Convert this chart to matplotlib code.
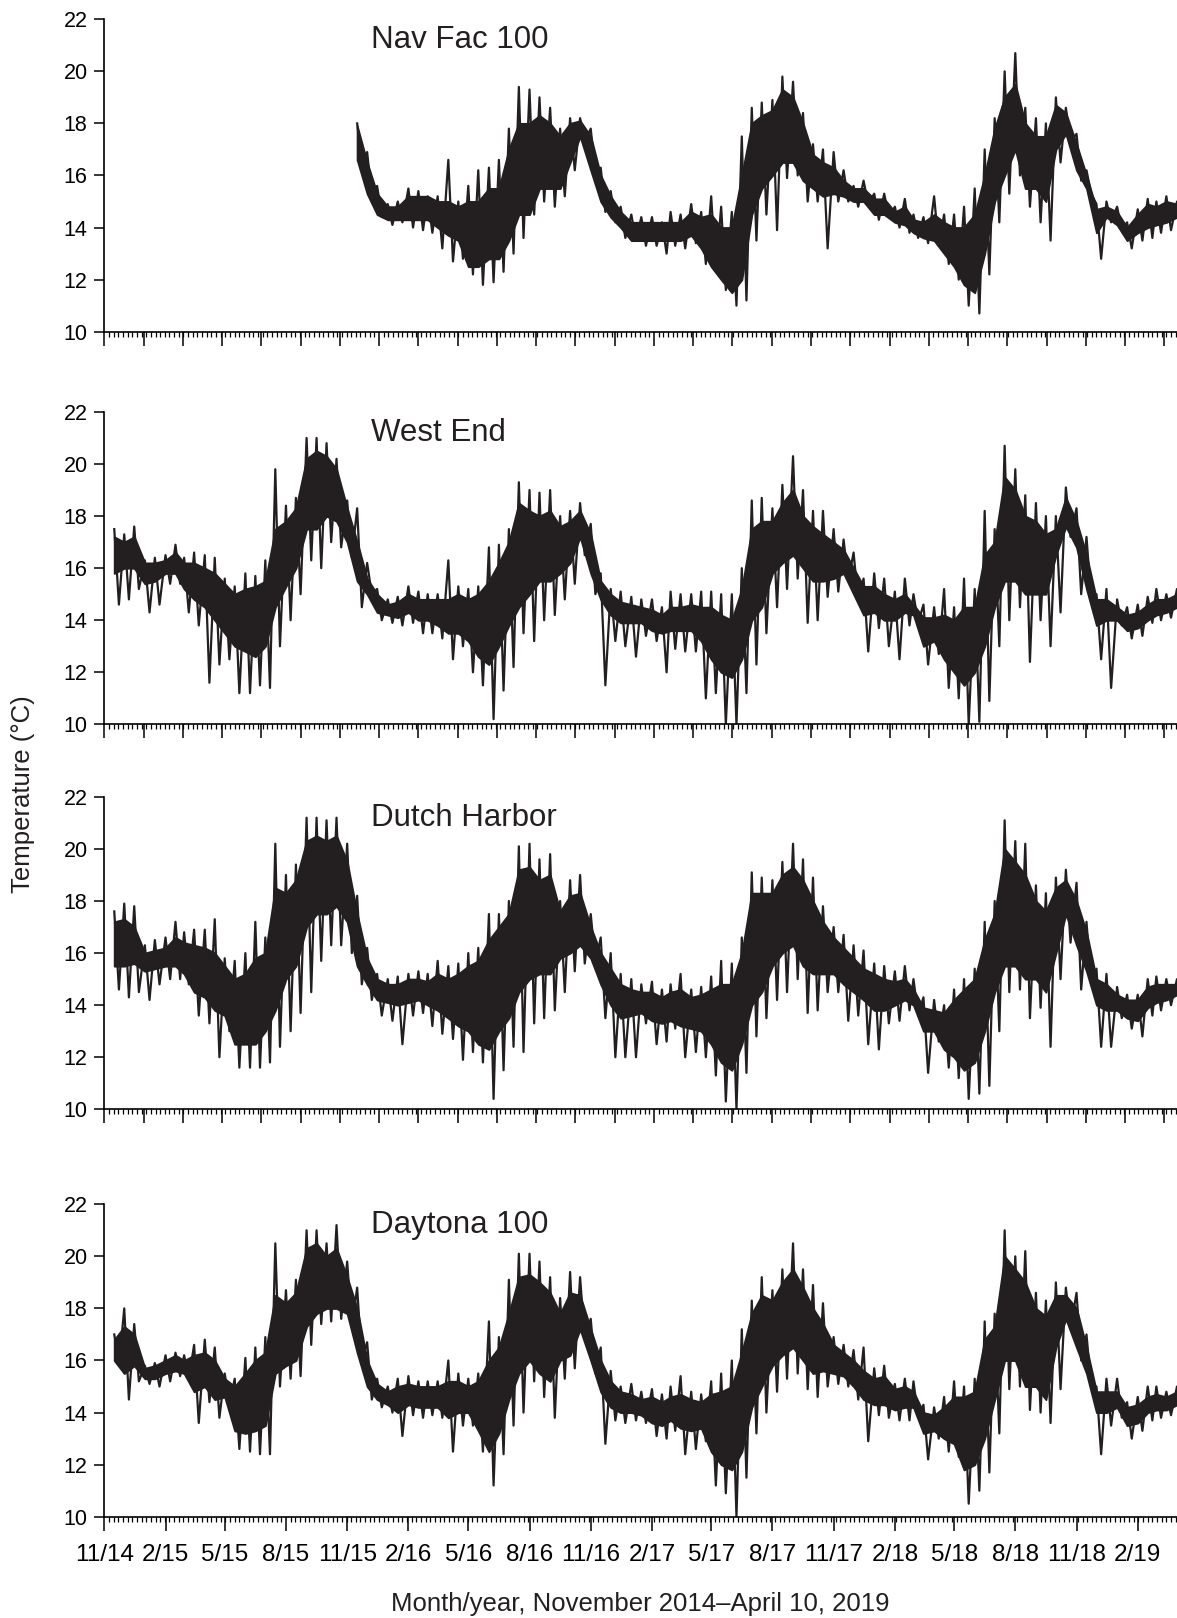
import matplotlib
matplotlib.use('Agg')
import matplotlib.pyplot as plt
import matplotlib.dates as mdates
from matplotlib.ticker import FixedLocator
import numpy as np
import pandas as pd

plt.rcParams['font.family'] = ['Liberation Sans', 'DejaVu Sans']

nan = float('nan')

# half-month grid (1st and 16th), Nov 2014 - Apr 2019
months = pd.date_range('2014-11-01', '2019-03-01', freq='MS')
dates = []
for m in months:
    dates.append(m)
    dates.append(m + pd.Timedelta(days=15))
dates.append(pd.Timestamp('2019-04-01'))

# extremes of the trace (spikes) per half month, deg C
navfac_hi = [nan] * 25 + [
    18.0, 16.9, 15.6, 14.9, 15.0, 15.5, 15.4, 15.2, 15.2, 16.6, 15.0, 15.6, 16.2, 16.3, 16.6, 17.8,
    19.4, 19.3, 19.0, 18.6, 17.8, 18.2, 18.2, 17.8, 16.3, 15.4, 14.8, 14.5, 14.4, 14.4, 14.2, 14.6,
    14.5, 14.9, 14.6, 15.2, 14.8, 14.6, 17.5, 18.6, 18.8, 18.9, 19.8, 19.6, 18.4, 17.2, 17.0, 16.9,
    16.2, 15.6, 15.8, 15.3, 15.3, 14.8, 15.1, 14.5, 14.4, 15.2, 14.5, 14.5, 14.8, 15.5, 17.0, 18.2,
    20.0, 20.7, 18.6, 18.2, 18.0, 19.0, 18.6, 17.6, 16.2, 14.9, 15.0, 14.8, 14.2, 14.7, 15.1, 15.0,
    15.2, 15.0]
navfac_lo = [nan] * 25 + [
    16.5, 15.2, 14.4, 14.1, 14.2, 14.0, 13.9, 13.8, 13.2, 12.7, 12.8, 12.2, 11.8, 11.9, 12.3, 13.0,
    13.6, 14.5, 15.0, 14.8, 15.2, 16.2, 17.3, 16.0, 14.6, 14.2, 13.6, 13.5, 13.3, 13.3, 13.0, 13.3,
    13.2, 13.4, 12.6, 12.3, 11.6, 11.0, 11.2, 13.5, 14.5, 13.9, 15.9, 16.0, 15.0, 15.0, 13.2, 15.0,
    15.0, 14.8, 14.9, 14.3, 14.4, 14.0, 13.8, 13.6, 13.4, 13.3, 12.6, 12.0, 11.0, 10.7, 12.2, 14.2,
    15.3, 16.0, 14.8, 14.2, 13.5, 16.5, 17.3, 15.8, 15.3, 12.8, 14.2, 13.9, 13.2, 13.5, 13.6, 13.8,
    13.9, 14.2]
# dense core of the trace per half month
navfac_core_hi = [nan] * 25 + [
    17.9, 16.5, 15.3, 14.8, 14.8, 15.2, 15.2, 15.2, 15.0, 15.0, 14.8, 15.0, 15.0, 15.5, 15.5, 17.0,
    18.0, 18.0, 18.3, 18.0, 17.5, 18.0, 18.1, 17.5, 16.0, 15.2, 14.6, 14.2, 14.2, 14.2, 14.2, 14.2,
    14.2, 14.6, 14.4, 14.5, 14.0, 14.0, 16.0, 18.0, 18.3, 18.5, 19.3, 19.0, 18.0, 16.8, 16.5, 16.3,
    15.8, 15.5, 15.5, 15.1, 15.1, 14.6, 14.8, 14.3, 14.2, 14.5, 14.2, 14.0, 14.0, 14.5, 16.0, 17.8,
    19.0, 19.5, 18.0, 17.5, 17.5, 18.7, 18.4, 17.2, 16.0, 14.7, 14.8, 14.6, 14.0, 14.5, 14.9, 14.8,
    15.0, 14.9]
navfac_core_lo = [nan] * 25 + [
    16.6, 15.3, 14.5, 14.3, 14.3, 14.3, 14.3, 14.3, 14.0, 13.7, 13.5, 12.5, 12.5, 12.8, 12.8, 13.5,
    14.5, 14.5, 15.5, 15.5, 15.5, 16.5, 17.5, 16.2, 15.0, 14.4, 14.0, 13.5, 13.5, 13.5, 13.5, 13.5,
    13.5, 13.7, 13.2, 12.5, 12.0, 11.5, 12.0, 14.5, 15.5, 16.0, 16.5, 16.5, 15.8, 15.5, 15.2, 15.3,
    15.2, 15.0, 15.0, 14.5, 14.5, 14.2, 14.1, 13.8, 13.6, 13.5, 13.0, 12.5, 11.8, 11.5, 13.0, 15.0,
    16.0, 17.0, 15.5, 15.5, 15.0, 17.0, 17.6, 16.2, 15.5, 13.8, 14.4, 14.1, 13.5, 13.8, 14.0, 14.1,
    14.2, 14.4]

westend_hi = [nan,
    17.5, 17.3, 17.6, 16.3, 16.4, 16.5, 16.9, 16.4, 16.6, 16.5, 16.4, 15.6, 15.3, 15.8, 15.7, 16.3,
    19.8, 18.4, 18.7, 21.0, 21.0, 20.8, 20.2, 18.6, 18.3, 16.2, 15.2, 14.8, 14.9, 15.3, 15.1, 15.0,
    15.0, 16.3, 15.3, 15.2, 15.3, 16.8, 16.9, 17.5, 19.3, 19.0, 18.9, 19.0, 18.0, 18.2, 18.5, 17.7,
    15.8, 15.2, 15.1, 14.9, 14.8, 14.8, 14.5, 15.1, 15.0, 15.0, 15.1, 15.1, 15.0, 15.0, 16.0, 18.6,
    18.7, 18.3, 19.2, 20.3, 19.0, 18.2, 18.2, 17.5, 17.1, 16.6, 15.6, 15.8, 15.6, 15.1, 15.6, 15.0,
    14.6, 14.5, 15.2, 14.5, 15.6, 15.2, 18.2, 17.5, 20.7, 19.8, 18.8, 18.5, 18.0, 18.0, 19.1, 18.3,
    17.2, 15.0, 15.2, 14.8, 14.5, 14.6, 14.9, 15.2, 15.0, 15.2]
westend_lo = [nan,
    14.6, 14.8, 15.2, 14.3, 14.6, 15.4, 15.4, 14.3, 13.8, 11.6, 12.3, 12.5, 11.2, 11.2, 11.5, 11.4,
    13.0, 14.0, 15.0, 16.3, 16.0, 17.0, 16.8, 16.4, 14.5, 15.0, 14.0, 13.9, 13.8, 13.9, 13.5, 13.5,
    13.3, 12.5, 13.0, 12.0, 11.5, 10.2, 11.3, 12.2, 13.5, 13.2, 14.0, 14.2, 14.8, 15.4, 16.5, 15.0,
    11.5, 13.2, 13.0, 12.6, 13.4, 13.2, 12.0, 12.9, 12.8, 12.8, 11.0, 11.2, 10.0, 10.0, 11.2, 12.3,
    13.5, 14.5, 15.2, 15.6, 13.9, 14.0, 14.9, 15.1, 15.5, 14.7, 12.8, 13.7, 13.0, 12.5, 13.8, 13.9,
    12.3, 12.7, 11.4, 11.0, 10.0, 10.1, 10.9, 13.0, 14.0, 14.5, 12.4, 14.0, 13.0, 14.3, 17.2, 15.0,
    14.8, 12.5, 11.4, 13.8, 13.3, 13.4, 13.9, 14.0, 14.1, 14.3]
westend_core_hi = [nan,
    17.2, 17.0, 17.2, 16.2, 16.2, 16.3, 16.6, 16.2, 16.2, 16.0, 15.8, 15.4, 15.0, 15.2, 15.3, 15.5,
    17.5, 17.8, 18.3, 20.2, 20.5, 20.3, 19.8, 18.3, 17.0, 15.6, 15.0, 14.6, 14.7, 15.0, 14.8, 14.8,
    14.8, 14.8, 15.0, 14.8, 15.0, 15.5, 16.2, 17.0, 18.5, 18.2, 18.0, 18.2, 17.6, 17.8, 18.2, 17.3,
    15.5, 15.0, 14.7, 14.6, 14.5, 14.4, 14.2, 14.5, 14.5, 14.6, 14.5, 14.5, 14.2, 14.0, 15.2, 17.5,
    17.8, 17.8, 18.5, 19.0, 18.0, 17.6, 17.3, 17.0, 16.7, 16.0, 15.3, 15.3, 15.0, 14.8, 15.0, 14.6,
    14.1, 14.1, 14.2, 14.0, 14.5, 14.5, 16.5, 17.0, 19.5, 19.0, 18.0, 17.8, 17.3, 17.5, 18.7, 17.8,
    16.5, 14.8, 14.8, 14.5, 14.2, 14.3, 14.6, 14.8, 14.8, 15.0]
westend_core_lo = [nan,
    15.8, 16.0, 16.0, 15.4, 15.5, 15.8, 15.8, 15.2, 14.8, 14.5, 14.0, 13.5, 13.0, 12.8, 12.6, 13.0,
    14.5, 15.3, 16.0, 17.5, 17.5, 18.0, 17.8, 17.0, 15.5, 15.0, 14.3, 14.2, 14.1, 14.3, 14.0, 14.0,
    13.8, 13.5, 13.5, 13.2, 12.6, 12.3, 13.0, 13.8, 14.5, 15.0, 15.5, 15.5, 15.8, 16.2, 17.2, 15.8,
    14.8, 14.2, 13.9, 13.9, 13.9, 13.6, 13.5, 13.6, 13.6, 13.6, 13.2, 12.5, 12.0, 11.8, 12.5, 14.0,
    14.5, 15.8, 16.2, 16.5, 16.0, 15.5, 15.5, 15.6, 15.8, 15.0, 14.2, 14.3, 14.0, 14.0, 14.3, 14.2,
    13.0, 13.2, 12.5, 12.0, 11.5, 12.0, 13.0, 14.5, 15.5, 15.5, 15.0, 15.0, 15.0, 16.5, 17.6, 16.8,
    15.2, 13.8, 14.0, 14.0, 13.6, 13.7, 14.0, 14.2, 14.3, 14.5]

dutch_hi = [nan,
    17.6, 17.9, 17.8, 16.3, 16.5, 16.6, 17.2, 16.8, 16.9, 16.9, 17.3, 15.8, 15.7, 16.0, 17.2, 16.6,
    20.2, 19.0, 19.4, 21.2, 21.2, 21.1, 21.2, 20.2, 18.2, 16.2, 15.2, 15.0, 15.1, 15.2, 15.3, 15.2,
    15.7, 15.5, 15.6, 16.0, 16.2, 17.5, 17.5, 18.0, 20.1, 20.2, 19.6, 19.8, 18.0, 18.8, 19.0, 17.5,
    16.6, 16.0, 15.2, 15.0, 14.8, 14.9, 14.6, 14.8, 15.2, 14.6, 14.7, 15.1, 15.7, 15.6, 16.6, 19.1,
    18.9, 18.8, 19.5, 20.2, 19.6, 18.9, 17.8, 17.0, 16.7, 16.3, 16.1, 15.6, 15.5, 15.3, 15.5, 15.0,
    14.3, 14.2, 14.0, 14.6, 15.0, 15.4, 17.2, 18.0, 21.1, 20.3, 20.2, 18.6, 18.3, 18.9, 19.2, 18.7,
    17.2, 15.4, 15.2, 14.7, 14.4, 14.4, 15.0, 15.1, 15.0, 15.0]
dutch_lo = [nan,
    14.6, 14.3, 14.5, 14.2, 14.8, 15.0, 15.0, 14.8, 13.6, 13.3, 12.0, 13.0, 11.6, 11.6, 11.6, 11.8,
    12.4, 13.0, 13.7, 14.5, 15.7, 16.3, 16.3, 16.0, 14.8, 14.2, 13.6, 13.4, 12.5, 13.6, 13.7, 13.2,
    12.9, 12.7, 11.9, 12.2, 11.8, 10.4, 11.5, 12.4, 12.2, 13.3, 13.5, 13.8, 14.5, 15.3, 15.6, 15.6,
    13.5, 12.0, 12.0, 12.0, 13.3, 12.5, 12.6, 13.1, 12.0, 12.2, 12.0, 11.3, 10.3, 10.0, 11.4, 12.8,
    13.5, 14.2, 14.5, 15.0, 13.7, 13.8, 14.5, 14.5, 13.4, 13.6, 12.5, 12.3, 13.3, 13.4, 13.8, 13.6,
    11.4, 12.6, 11.6, 11.2, 10.4, 10.6, 10.9, 13.0, 14.5, 14.6, 13.5, 13.9, 12.4, 15.0, 16.4, 14.6,
    14.8, 12.4, 12.4, 13.5, 13.1, 12.8, 13.6, 13.8, 14.0, 14.2]
dutch_core_hi = [nan,
    17.2, 17.3, 17.0, 16.0, 16.1, 16.2, 16.6, 16.4, 16.3, 16.2, 16.0, 15.5, 15.0, 15.2, 15.8, 16.0,
    18.5, 18.3, 18.8, 20.3, 20.5, 20.3, 20.5, 19.5, 17.5, 15.8, 15.0, 14.8, 14.8, 15.0, 15.0, 14.9,
    15.2, 15.0, 15.2, 15.5, 15.7, 16.5, 17.0, 17.5, 19.2, 19.3, 18.8, 19.0, 17.6, 18.2, 18.3, 17.0,
    16.0, 15.4, 14.8, 14.6, 14.5, 14.5, 14.3, 14.5, 14.6, 14.3, 14.4, 14.6, 14.8, 14.8, 16.0, 18.3,
    18.3, 18.3, 19.0, 19.3, 18.8, 18.0, 17.2, 16.6, 16.2, 15.8, 15.4, 15.2, 15.0, 14.9, 15.0, 14.6,
    13.9, 13.8, 13.7, 14.2, 14.6, 15.0, 16.5, 17.5, 20.0, 19.5, 19.0, 18.0, 17.6, 18.5, 18.8, 18.0,
    16.8, 15.0, 14.8, 14.4, 14.2, 14.2, 14.7, 14.8, 14.8, 14.8]
dutch_core_lo = [nan,
    15.5, 15.5, 15.6, 15.3, 15.4, 15.5, 15.5, 15.2, 14.5, 14.3, 13.8, 13.6, 12.5, 12.5, 12.5, 13.0,
    13.8, 15.0, 15.5, 17.0, 17.5, 17.5, 17.8, 17.2, 15.5, 14.8, 14.2, 14.1, 14.0, 14.1, 14.2, 14.0,
    13.8, 13.5, 13.2, 13.0, 12.5, 12.3, 13.0, 13.5, 14.5, 15.0, 15.2, 15.2, 15.8, 16.0, 16.3, 15.8,
    14.8, 14.0, 13.5, 13.6, 13.7, 13.4, 13.3, 13.4, 13.2, 13.1, 13.0, 12.5, 11.8, 11.5, 12.5, 14.0,
    14.5, 15.5, 16.0, 16.3, 15.5, 15.2, 15.2, 15.2, 14.8, 14.5, 14.2, 13.8, 13.8, 14.0, 14.2, 14.0,
    13.0, 13.0, 12.3, 12.0, 11.5, 11.8, 13.0, 14.5, 15.5, 15.5, 15.0, 15.0, 14.5, 16.0, 17.5, 16.3,
    15.3, 14.0, 13.8, 13.8, 13.5, 13.4, 13.9, 14.1, 14.2, 14.4]

daytona_hi = [nan,
    17.0, 18.0, 17.4, 15.8, 15.9, 16.2, 16.3, 16.2, 16.6, 16.8, 16.5, 15.5, 15.3, 16.1, 16.5, 16.9,
    20.5, 18.7, 19.1, 21.0, 21.0, 20.5, 21.2, 19.8, 18.8, 16.7, 15.3, 15.0, 15.3, 15.4, 15.2, 15.2,
    15.2, 16.0, 15.5, 15.3, 15.5, 17.5, 16.9, 19.1, 20.1, 20.1, 19.8, 19.2, 18.4, 19.4, 19.2, 17.6,
    16.5, 15.6, 15.0, 15.1, 14.8, 14.9, 14.7, 15.0, 15.4, 14.8, 14.7, 15.2, 15.5, 16.0, 17.2, 18.3,
    19.2, 18.7, 19.5, 20.5, 19.5, 18.9, 18.2, 16.9, 16.6, 16.4, 16.5, 15.7, 15.8, 15.1, 15.3, 15.2,
    14.3, 14.2, 14.6, 15.2, 15.0, 15.3, 17.5, 17.8, 21.0, 20.0, 20.2, 18.6, 18.3, 19.0, 18.8, 18.6,
    17.0, 15.0, 15.3, 15.3, 14.4, 14.6, 15.0, 15.0, 14.8, 15.0]
daytona_lo = [nan,
    15.8, 14.5, 15.2, 15.1, 15.0, 15.2, 15.4, 15.3, 13.6, 14.4, 13.8, 14.3, 12.6, 12.5, 12.4, 12.4,
    15.0, 15.3, 15.4, 16.6, 17.4, 17.5, 17.6, 17.3, 16.0, 14.5, 14.2, 14.0, 13.1, 13.9, 13.8, 13.9,
    13.8, 12.5, 13.5, 13.5, 12.5, 11.2, 12.4, 13.5, 14.0, 15.2, 14.6, 13.8, 15.3, 15.7, 16.8, 15.5,
    12.8, 13.7, 13.6, 13.7, 13.6, 13.1, 13.0, 13.3, 12.4, 12.6, 12.9, 11.2, 10.9, 10.0, 11.5, 13.2,
    14.0, 14.8, 15.3, 15.5, 14.9, 14.6, 15.0, 15.1, 15.0, 14.5, 12.9, 13.9, 13.8, 13.7, 13.7, 13.8,
    12.2, 13.0, 12.5, 12.3, 10.5, 11.0, 11.7, 13.2, 14.9, 15.0, 14.1, 14.0, 13.6, 14.9, 17.2, 16.0,
    15.0, 12.4, 13.5, 13.8, 13.0, 13.3, 13.7, 13.8, 13.9, 14.0]
daytona_core_hi = [nan,
    16.8, 17.3, 17.0, 15.7, 15.8, 16.0, 16.2, 16.0, 16.2, 16.3, 16.0, 15.3, 15.0, 15.5, 16.0, 16.3,
    18.5, 18.2, 18.6, 20.3, 20.5, 20.0, 20.3, 19.2, 18.0, 16.0, 15.1, 14.8, 15.0, 15.1, 15.0, 15.0,
    15.0, 15.2, 15.2, 15.0, 15.2, 16.0, 16.5, 17.8, 19.2, 19.3, 19.0, 18.6, 17.8, 18.6, 18.5, 17.2,
    16.0, 15.2, 14.8, 14.7, 14.5, 14.6, 14.4, 14.6, 14.7, 14.5, 14.4, 14.7, 14.8, 15.0, 16.3, 17.8,
    18.5, 18.3, 19.0, 19.5, 18.8, 18.0, 17.4, 16.6, 16.3, 16.0, 15.6, 15.3, 15.4, 14.9, 15.0, 14.8,
    14.0, 13.9, 14.2, 14.6, 14.6, 14.8, 16.8, 17.3, 20.0, 19.5, 19.0, 18.0, 17.7, 18.5, 18.5, 18.0,
    16.5, 14.8, 14.8, 14.8, 14.2, 14.3, 14.6, 14.7, 14.6, 14.8]
daytona_core_lo = [nan,
    16.0, 15.5, 15.8, 15.3, 15.3, 15.5, 15.6, 15.5, 14.8, 15.0, 14.5, 14.6, 13.3, 13.2, 13.3, 13.5,
    15.5, 15.8, 16.0, 17.3, 17.8, 18.0, 18.0, 17.8, 16.3, 15.0, 14.5, 14.3, 14.0, 14.3, 14.2, 14.2,
    14.2, 13.8, 14.0, 14.0, 13.3, 12.5, 13.2, 14.5, 15.5, 16.0, 15.5, 15.2, 16.0, 16.2, 17.2, 16.0,
    14.8, 14.2, 14.0, 14.0, 13.9, 13.6, 13.5, 13.7, 13.4, 13.3, 13.4, 12.5, 12.0, 11.8, 12.5, 14.2,
    15.0, 15.8, 16.2, 16.5, 16.0, 15.5, 15.6, 15.5, 15.4, 15.0, 14.5, 14.3, 14.3, 14.1, 14.2, 14.2,
    13.2, 13.3, 13.0, 12.8, 11.8, 12.0, 13.0, 14.5, 16.0, 16.0, 15.0, 15.0, 14.5, 16.5, 17.6, 16.5,
    15.5, 14.0, 14.0, 14.2, 13.5, 13.6, 14.0, 14.1, 14.1, 14.3]

sites = ['Nav Fac 100', 'West End', 'Dutch Harbor', 'Daytona 100']
highs = [navfac_hi, westend_hi, dutch_hi, daytona_hi]
lows = [navfac_lo, westend_lo, dutch_lo, daytona_lo]
core_highs = [navfac_core_hi, westend_core_hi, dutch_core_hi, daytona_core_hi]
core_lows = [navfac_core_lo, westend_core_lo, dutch_core_lo, daytona_core_lo]

yticks = [10, 12, 14, 16, 18, 20, 22]
label_months = pd.date_range('2014-11-01', '2019-02-01', freq='3MS')
xtick_labels = [f'{d.month}/{d.strftime("%y")}' for d in label_months]

start = pd.Timestamp('2014-11-01')
end = pd.Timestamp('2019-04-01')

t = mdates.date2num(dates)
# spikes: high on the grid date, low a week later
t_lo = mdates.date2num([d + pd.Timedelta(days=7) for d in dates])

fig = plt.figure(figsize=(11.77, 16.18), dpi=100)
bottoms = [0.7950, 0.5523, 0.3144, 0.0626]
col = '#231f20'

for i in range(4):
    ax = fig.add_axes([0.0886, bottoms[i], 0.9114, 0.1931])
    hi = np.array(highs[i], dtype=float)
    lo = np.array(lows[i], dtype=float)
    chi = np.array(core_highs[i], dtype=float)
    clo = np.array(core_lows[i], dtype=float)

    ax.fill_between(t, clo, chi, color=col, linewidth=1.4, edgecolor=col)
    tx = np.column_stack([t, t_lo]).ravel()
    ty = np.column_stack([hi, lo]).ravel()
    ax.plot(tx, ty, color=col, linewidth=1.6)

    ax.set_xlim(mdates.date2num(start), mdates.date2num(end))
    ax.set_ylim(10, 22)
    ax.set_yticks(yticks)
    ax.spines['top'].set_visible(False)
    ax.spines['right'].set_visible(False)
    ax.spines['left'].set_linewidth(1.2)
    ax.spines['bottom'].set_linewidth(1.2)

    # weekly minor ticks
    minor = mdates.date2num(pd.date_range(start, end, freq='7D'))
    ax.xaxis.set_minor_locator(FixedLocator(minor))
    if i < 3:
        major = mdates.date2num(pd.date_range(start, end, freq='59D'))
        ax.xaxis.set_major_locator(FixedLocator(major))
        ax.set_xticklabels([])
    else:
        ax.set_xticks(mdates.date2num(label_months))
        ax.set_xticklabels(xtick_labels, fontsize=17.5)

    ax.tick_params(axis='x', which='major', direction='out', length=10, width=1.1, pad=10)
    ax.tick_params(axis='x', which='minor', direction='out', length=3.5, width=0.9)
    ax.tick_params(axis='y', which='major', direction='out', length=7, width=1.1, pad=5, labelsize=15.5)

    ax.text(0.249, 0.933, sites[i], transform=ax.transAxes, fontsize=22.5,
            ha='left', va='center', color=col)

fig.text(0.5437, 0.0087, 'Month/year, November 2014\u2013April 10, 2019',
         ha='center', va='center', fontsize=18.5, color=col)
fig.text(0.0195, 0.509, 'Temperature (\u00b0C)', rotation=90,
         ha='center', va='center', fontsize=18.5, color=col)

fig.savefig('out.png', dpi=100)
